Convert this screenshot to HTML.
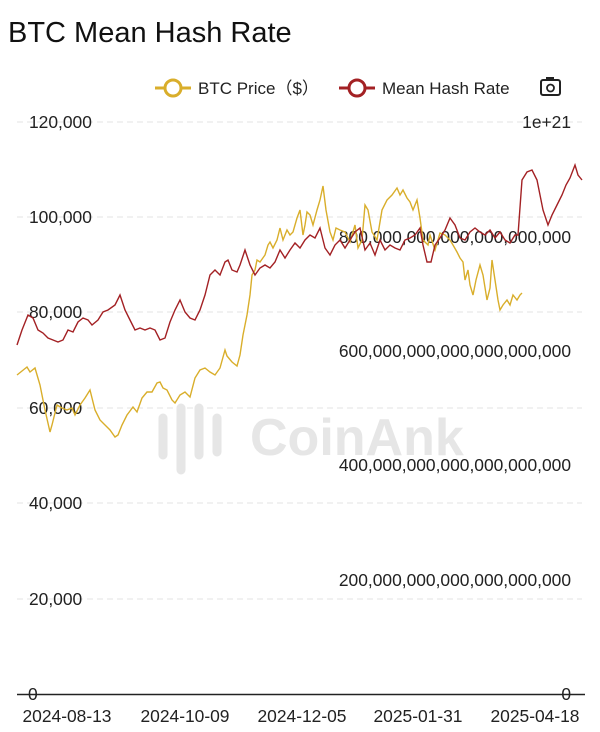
<!DOCTYPE html>
<html><head><meta charset="utf-8"><style>
body{margin:0;background:#fff;width:600px;height:727px;overflow:hidden;font-family:"Liberation Sans",sans-serif;}
</style></head><body>
<svg width="600" height="727" xmlns="http://www.w3.org/2000/svg" font-family="Liberation Sans, sans-serif">
<text x="8" y="42" font-size="29" fill="#111">BTC Mean Hash Rate</text>
<line x1="155" y1="88" x2="191" y2="88" stroke="#d9ae2b" stroke-width="3"/>
<circle cx="173" cy="88" r="8" fill="#fff" stroke="#d9ae2b" stroke-width="3"/>
<text x="198" y="94" font-size="17" fill="#222">BTC Price（$）</text>
<line x1="339" y1="88" x2="375" y2="88" stroke="#a32124" stroke-width="3"/>
<circle cx="357" cy="88" r="8" fill="#fff" stroke="#a32124" stroke-width="3"/>
<text x="382" y="94" font-size="17" fill="#222">Mean Hash Rate</text>
<rect x="541" y="80" width="19" height="15" rx="2" fill="none" stroke="#222" stroke-width="2"/>
<rect x="546" y="77" width="8" height="4" fill="#222"/>
<circle cx="550.5" cy="88" r="3.5" fill="none" stroke="#222" stroke-width="1.8"/>
<g stroke="#e3e3e3" stroke-dasharray="6,4" stroke-width="1">
<line x1="17" y1="122" x2="582" y2="122"/><line x1="17" y1="217" x2="582" y2="217"/>
<line x1="17" y1="312" x2="582" y2="312"/><line x1="17" y1="408" x2="582" y2="408"/>
<line x1="17" y1="503" x2="582" y2="503"/><line x1="17" y1="599" x2="582" y2="599"/>
</g>
<line x1="17" y1="694.5" x2="585" y2="694.5" stroke="#222" stroke-width="1.5"/>
<g fill="none" stroke="#e6e6e6" stroke-width="9" stroke-linecap="round">
<path d="M163 418 V455 M181 408 V470 M199 408 V455 M217 418 V452"/>
</g>
<text x="250" y="455" font-size="52" font-weight="bold" fill="#e6e6e6">CoinAnk</text>
<g font-size="17.4" fill="#222">
<text x="29" y="128">120,000</text><text x="29" y="223">100,000</text><text x="29" y="318">80,000</text>
<text x="29" y="414">60,000</text><text x="29" y="509">40,000</text><text x="29" y="605">20,000</text>
<text x="28" y="700">0</text>
</g>
<g font-size="17.4" fill="#222" text-anchor="end">
<text x="571" y="128">1e+21</text>
<text x="571" y="243">800,000,000,000,000,000,000</text>
<text x="571" y="357">600,000,000,000,000,000,000</text>
<text x="571" y="471">400,000,000,000,000,000,000</text>
<text x="571" y="586">200,000,000,000,000,000,000</text>
<text x="571" y="700">0</text>
</g>
<g font-size="17.4" fill="#222" text-anchor="middle">
<text x="67" y="722">2024-08-13</text><text x="185" y="722">2024-10-09</text><text x="302" y="722">2024-12-05</text>
<text x="418" y="722">2025-01-31</text><text x="535" y="722">2025-04-18</text>
</g>
<polyline fill="none" stroke="#d9ae2b" stroke-width="1.4" points="17,375 27,367 30,372 35,368 40,385 45,410 50,432 52,425 57,405 62,408 67,410 72,408 75,415 80,405 85,398 90,390 95,410 100,420 105,425 110,430 115,437 118,435 122,425 127,415 133,407 137,412 142,398 147,392 152,392 157,383 160,382 163,388 167,390 172,400 175,403 180,395 185,392 190,397 195,378 200,370 205,368 210,372 215,375 220,368 225,350 227,356 232,362 237,366 240,355 243,335 247,315 250,295 252,275 255,270 257,260 260,262 265,255 268,245 270,242 273,248 277,240 280,228 283,240 287,230 290,235 293,232 297,218 300,210 303,235 305,225 307,212 310,215 313,225 317,210 320,200 323,186 326,210 330,232 333,240 336,228 340,230 345,232 350,242 355,225 358,248 362,240 365,205 368,210 372,232 377,240 382,210 387,200 392,195 397,188 400,195 403,190 407,198 410,202 413,210 417,200 420,218 423,240 428,245 430,235 435,250 440,233 445,235 450,240 453,245 457,252 460,258 463,262 465,280 468,270 470,285 473,295 476,280 480,265 483,275 487,300 490,288 492,260 495,280 498,300 500,310 503,305 507,300 510,305 513,295 517,300 520,295 522,293"/>
<polyline fill="none" stroke="#a32124" stroke-width="1.4" points="17,345 22,330 28,315 33,318 38,330 43,333 48,338 53,340 58,342 63,340 68,330 73,332 78,322 83,318 88,320 92,325 98,320 103,312 108,310 115,305 120,295 125,310 130,320 135,330 140,328 145,330 150,328 155,330 160,340 165,338 170,322 175,310 180,300 185,312 190,318 195,320 200,310 205,295 210,275 215,270 220,275 225,262 228,260 232,270 237,272 240,265 245,250 250,265 255,275 260,268 265,265 270,268 275,262 280,250 285,258 290,250 295,243 300,248 305,240 310,235 315,238 320,228 325,248 330,255 335,245 340,240 345,248 350,240 355,232 360,228 365,250 370,243 375,255 380,240 385,250 390,245 395,248 400,250 405,240 410,238 415,235 420,228 423,245 427,262 431,262 435,245 440,238 445,230 450,218 455,225 460,238 465,240 470,232 475,228 480,232 485,235 490,230 495,238 500,232 505,240 510,243 515,235 518,235 522,180 527,172 532,170 537,180 543,210 548,225 552,215 557,205 562,195 566,185 570,178 575,165 578,175 582,180"/>
</svg>
</body></html>
